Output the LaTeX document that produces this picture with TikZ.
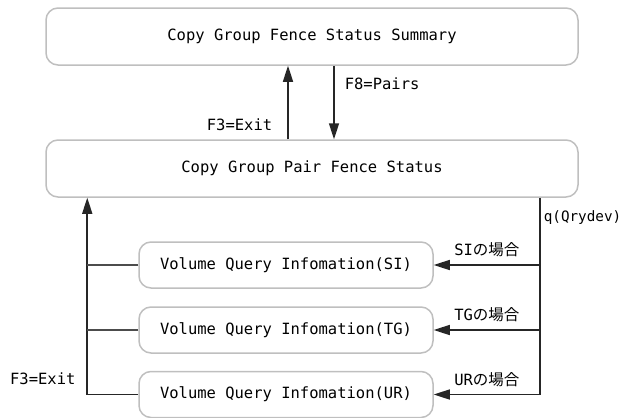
\documentclass[tikz,border=0pt]{standalone}
\usepackage{fontspec}
\setmonofont{DejaVu Sans Mono}
\newfontfamily\jpfont{Noto Sans CJK JP}
\usetikzlibrary{arrows.meta}

\begin{document}
\begin{tikzpicture}[x=1pt,y=-1pt]
        % Define styles
        \tikzset{
            screen/.style={rectangle, draw=black!25, line width=1.5pt, rounded corners=12pt, minimum width=532pt, minimum height=57pt, font=\ttfamily\fontsize{15.5}{18}\selectfont},
            volume/.style={screen, minimum width=294pt, minimum height=46pt},
            keytext/.style={inner sep=0pt, font=\ttfamily\fontsize{15.5}{18}\selectfont},
            arrow/.style={-{Triangle[length=16pt,width=10pt]}, line width=1.6pt, draw=black!85},
            branch/.style={line width=1.6pt, draw=black!70}
        }
        \useasboundingbox (0,0) rectangle (625,418);

        % Nodes
        \node[screen] (summary_node) at (312,36.5) {Copy Group Fence Status Summary};
        \node[screen] (pair_node) at (312,168.5) {Copy Group Pair Fence Status};
        \node[volume] (volume_node_si) at (286,265) {Volume Query Infomation(SI)};
        \node[volume] (volume_node_tg) at (286,330) {Volume Query Infomation(TG)};
        \node[volume] (volume_node_ur) at (286,394.5) {Volume Query Infomation(UR)};
        \coordinate (query_top) at ([xshift=228pt]pair_node.south);
        \coordinate (exit_top) at ([xshift=42pt]pair_node.south west);

        % Arrows
        \draw[arrow] ([xshift=-24pt]pair_node.north) -- ([xshift=-24pt]summary_node.south) node[keytext, pos=0.2, left=15pt] {F3=Exit};
        \draw[arrow] ([xshift=22pt]summary_node.south) -- ([xshift=22pt]pair_node.north) node[keytext, pos=0.24, right=10pt] {F8=Pairs};

        % q(Qrydev)
        \draw[arrow] (query_top) |- (volume_node_ur.east) node[keytext, pos=0.05, right=3pt, font=\ttfamily\fontsize{14.3}{17}\selectfont] {q(Qrydev)} node[keytext, pos=0.75, above=7pt] {UR{\jpfont の場合}};
        \draw[arrow] (volume_node_si.east -| query_top) -- (volume_node_si.east) node[keytext, midway, above=7pt] {SI{\jpfont の場合}};
        \draw[arrow] (volume_node_tg.east -| query_top) -- (volume_node_tg.east) node[keytext, midway, above=7pt] {TG{\jpfont の場合}};

        % F3=Exit
        \draw[arrow] (volume_node_ur.west) -| (exit_top) node[keytext, pos=0.54, left=11pt] {F3=Exit};
        \draw[branch] (volume_node_si.west) -- (volume_node_si.west -| exit_top);
        \draw[branch] (volume_node_tg.west) -- (volume_node_tg.west -| exit_top);
    \end{tikzpicture}
\end{document}
